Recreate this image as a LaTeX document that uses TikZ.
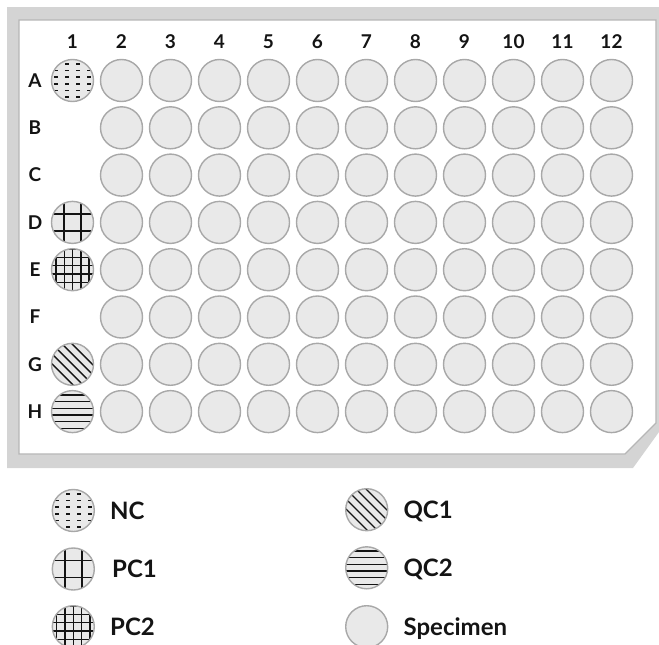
\documentclass[tikz,border=0pt]{standalone}
\usepackage{fontspec}
\setmainfont{Lato}
\usetikzlibrary{positioning}
\definecolor{plategray}{RGB}{212,212,212}
\definecolor{rimgray}{RGB}{182,182,182}
\definecolor{wellfill}{RGB}{233,233,233}
\definecolor{welldraw}{RGB}{168,168,168}
\definecolor{inkblack}{RGB}{20,20,20}

\begin{document}
\begin{tikzpicture}[
        x=1pt, y=-1pt,
        node distance=15pt,
        well/.style={circle, draw=welldraw, fill=wellfill, line width=1.4pt, minimum size=42pt, inner sep=0pt},
        hatch/.style={draw=inkblack, line width=1.4pt},
        ncwell/.style={well, path picture={
            \begin{scope}[shift={(path picture bounding box.center)}]
              \foreach \dx in {-16.5,-5.5,5.5,16.5}
                \foreach \dy in {-16.7,-10,-3.3,3.3,10,16.7}
                  \fill[inkblack] (\dx-1.7,\dy-0.9) rectangle (\dx+1.7,\dy+0.9);
            \end{scope}}},
        pconewell/.style={well, path picture={
            \begin{scope}[shift={(path picture bounding box.center)}]
              \foreach \d in {-8.5,8.5} {
                \draw[hatch] (\d,-25) -- (\d,25);
                \draw[hatch] (-25,\d) -- (25,\d);
              }
            \end{scope}}},
        pctwowell/.style={well, path picture={
            \begin{scope}[shift={(path picture bounding box.center)}]
              \foreach \d in {-16.6,-8.3,0,8.3,16.6}
                \draw[hatch] (\d,-25) -- (\d,25);
              \foreach \d in {-20.8,-12.5,-4.2,4.2,12.5,20.8}
                \draw[hatch] (-25,\d) -- (25,\d);
            \end{scope}}},
        qconewell/.style={well, path picture={
            \begin{scope}[shift={(path picture bounding box.center)}]
              \foreach \k in {-40,-30,...,40}
                \draw[hatch] ({\k/2-30},{-\k/2-30}) -- ({\k/2+30},{-\k/2+30});
            \end{scope}}},
        qctwowell/.style={well, path picture={
            \begin{scope}[shift={(path picture bounding box.center)}]
              \foreach \d in {-16.7,-10,-3.3,3.3,10,16.7}
                \draw[hatch, line width=1.3pt] (-25,\d) -- (25,\d);
            \end{scope}}},
        platelabel/.style={font=\fontsize{19}{19}\selectfont\bfseries, text=inkblack, inner sep=0pt},
        legendtext/.style={font=\fontsize{24}{24}\selectfont\bfseries, text=inkblack, inner sep=0pt, text depth=0pt, anchor=west}
    ]
        \useasboundingbox (0,0) rectangle (659,645);

        % plate
        \fill[plategray] (7,7) -- (659,7) -- (659,432) -- (633,468) -- (7,468) -- cycle;
        \filldraw[fill=white, draw=rimgray, line width=1.2pt] (19,20) -- (656,20) -- (656,423) -- (625,454) -- (19,454) -- cycle;

        % column and row labels, specimen wells
        \foreach \c in {1,...,12}
            \node[platelabel] (col-\c) at ({72.5+49*(\c-1)}, 42) {\c};
        \foreach \r [count=\i] in {A,B,C,D,E,F,G,H} {
            \node[platelabel] (row-\r) at (35, {80.5+47.3*(\i-1)}) {\r};
            \foreach \c in {2,...,12}
                \node[well] (w-\r\c) at ({72.5+49*(\c-1)}, {80.5+47.3*(\i-1)}) {};
        }

        % controls in column 1
        \node[ncwell]    (w-A1) at (72.5, 80.5)  {};
        \node[pconewell] (w-D1) at (72.5, 222.4) {};
        \node[pctwowell] (w-E1) at (72.5, 269.7) {};
        \node[qconewell] (w-G1) at (72.5, 364.3) {};
        \node[qctwowell] (w-H1) at (72.5, 411.6) {};

        % legend
        \node[ncwell]    (key-NC)   at (73.3, 510.5)  {};
        \node[pconewell] (key-PC1)  at (73.3, 569)    {};
        \node[pctwowell] (key-PC2)  at (73.3, 626.7)  {};
        \node[qconewell] (key-QC1)  at (366.7, 509.7) {};
        \node[qctwowell] (key-QC2)  at (366.7, 567.8) {};
        \node[well]      (key-Spec) at (366.7, 626.7) {};

        \node[legendtext, right=of key-NC]   (txt-NC)   {NC};
        \node[legendtext, right=17pt of key-PC1]  (txt-PC1)  {PC1};
        \node[legendtext, right=of key-PC2]  (txt-PC2)  {PC2};
        \node[legendtext, right=of key-QC1]  (txt-QC1)  {QC1};
        \node[legendtext, right=of key-QC2]  (txt-QC2)  {QC2};
        \node[legendtext, right=of key-Spec] (txt-Spec) {Specimen};
    \end{tikzpicture}
\end{document}
